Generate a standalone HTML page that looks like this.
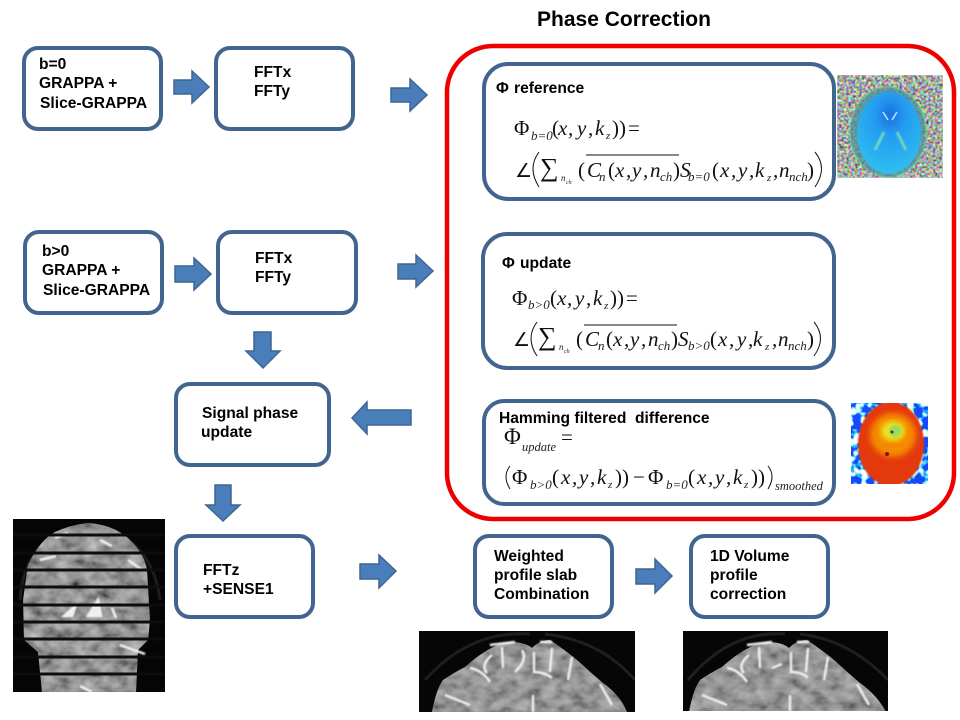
<!DOCTYPE html>
<html><head><meta charset="utf-8"><title>Phase Correction</title>
<style>
html,body{margin:0;padding:0;background:#fff;width:960px;height:720px;overflow:hidden}
svg{display:block}
.t{font:bold 15.6px "Liberation Sans",sans-serif;fill:#000}
.m{font:italic 21px "Liberation Serif",serif;fill:#111}
.r{font:21px "Liberation Serif",serif;fill:#111}
.s{font:italic 13px "Liberation Serif",serif;fill:#222}
.x{font:italic 9px "Liberation Serif",serif;fill:#222}
.b{fill:#fff;stroke:#41658f;stroke-width:4}
.a{fill:#4a7ebb;stroke:#3d6692;stroke-width:1.5}
.p{fill:none;stroke:#111;stroke-width:1}
</style></head><body>
<svg width="960" height="720" viewBox="0 0 960 720" xmlns="http://www.w3.org/2000/svg">
<defs>
<filter id="noise" x="0" y="0" width="100%" height="100%"><feTurbulence type="fractalNoise" baseFrequency="0.45" numOctaves="2" seed="4"/><feColorMatrix type="matrix" values="4.2 0 0 0 -1.75  0 4.2 0 0 -1.7  0 0 4.2 0 -1.75  0 0 0 0 1"/><feGaussianBlur stdDeviation="0.5"/></filter>
<filter id="noise2" x="0" y="0" width="100%" height="100%"><feTurbulence type="fractalNoise" baseFrequency="0.13" numOctaves="2" seed="9"/><feColorMatrix type="matrix" values="6 0 0 0 -3  6 0 0 0 -2.6  0 3 0 0 -0.5  0 0 0 0 1"/></filter>
<filter id="tex" x="0" y="0" width="100%" height="100%"><feTurbulence type="fractalNoise" baseFrequency="0.07 0.1" numOctaves="3" seed="7"/><feColorMatrix type="matrix" values="1 0 0 0 -0.1  1 0 0 0 -0.1  1 0 0 0 -0.1  0 0 0 0 1"/><feGaussianBlur stdDeviation="0.6"/><feComposite in2="SourceAlpha" operator="in"/></filter>
<filter id="bl1"><feGaussianBlur stdDeviation="0.8"/></filter>
<filter id="bl3"><feGaussianBlur stdDeviation="3"/></filter>
<radialGradient id="blue" cx="0.52" cy="0.28" r="0.7"><stop offset="0" stop-color="#1c6fe0"/><stop offset="0.35" stop-color="#229cf0"/><stop offset="1" stop-color="#30bdf0"/></radialGradient>
<clipPath id="cp1"><rect x="13" y="519" width="152" height="173"/></clipPath>
<clipPath id="cp2"><rect x="419" y="631" width="216" height="81"/></clipPath>
<clipPath id="cp3"><rect x="683" y="631" width="205" height="80"/></clipPath>
<clipPath id="cp4"><rect x="851" y="403" width="77" height="81"/></clipPath>
</defs>
<rect width="960" height="720" fill="#fff"/>

<text x="624" y="26" text-anchor="middle" style="font:bold 21px 'Liberation Sans',sans-serif">Phase Correction</text>

<!-- red container -->
<rect x="447" y="46" width="507" height="473" rx="46" fill="#fff" stroke="#ee0000" stroke-width="4.5"/>

<!-- boxes -->
<rect class="b" x="24" y="48" width="137" height="81" rx="14"/>
<rect class="b" x="216" y="48" width="137" height="81" rx="14"/>
<rect class="b" x="25" y="232" width="137" height="81" rx="14"/>
<rect class="b" x="218" y="232" width="138" height="81" rx="14"/>
<rect class="b" x="176" y="384" width="153" height="81" rx="14"/>
<rect class="b" x="176" y="536" width="137" height="81" rx="14"/>
<rect class="b" x="475" y="536" width="137" height="81" rx="14"/>
<rect class="b" x="691" y="536" width="137" height="81" rx="14"/>
<rect class="b" x="484" y="64" width="350" height="135" rx="24"/>
<rect class="b" x="483" y="234" width="351" height="134" rx="24"/>
<rect class="b" x="484" y="401" width="350" height="103" rx="20"/>

<!-- block arrows -->
<polygon class="a" points="174,80 192,80 192,71 209,87 192,103 192,94 174,94"/>
<polygon class="a" points="391,88 410,88 410,79 427,95 410,111 410,102 391,102"/>
<polygon class="a" points="175,266 194,266 194,258 211,274 194,290 194,282 175,282"/>
<polygon class="a" points="398,264 416,264 416,255 433,271 416,287 416,279 398,279"/>
<polygon class="a" points="254,332 271,332 271,351 280,351 263,368 246,351 254,351"/>
<polygon class="a" points="411,410 367,410 367,402 352,418 367,434 367,425 411,425"/>
<polygon class="a" points="215,485 231,485 231,505 240,505 223,521 206,505 215,505"/>
<polygon class="a" points="360,564 379,564 379,555 396,571 379,588 379,579 360,579"/>
<polygon class="a" points="636,569 655,569 655,559 672,576 655,593 655,584 636,584"/>

<!-- box labels -->
<text class="t"><tspan x="39" y="69">b=0</tspan><tspan x="39" y="88">GRAPPA +</tspan><tspan x="40" y="108">Slice-GRAPPA</tspan></text>
<text class="t"><tspan x="254" y="77">FFTx</tspan><tspan x="254" y="96">FFTy</tspan></text>
<text class="t"><tspan x="42" y="256">b&gt;0</tspan><tspan x="42" y="275">GRAPPA +</tspan><tspan x="43" y="295">Slice-GRAPPA</tspan></text>
<text class="t"><tspan x="255" y="263">FFTx</tspan><tspan x="255" y="282">FFTy</tspan></text>
<text class="t"><tspan x="202" y="418">Signal phase</tspan><tspan x="201" y="437">update</tspan></text>
<text class="t"><tspan x="203" y="575">FFTz</tspan><tspan x="203" y="594">+SENSE1</tspan></text>
<text class="t"><tspan x="494" y="561">Weighted</tspan><tspan x="494" y="580">profile slab</tspan><tspan x="494" y="599">Combination</tspan></text>
<text class="t"><tspan x="710" y="561">1D Volume</tspan><tspan x="710" y="580">profile</tspan><tspan x="710" y="599">correction</tspan></text>

<text class="t" y="93"><tspan x="496">Φ</tspan><tspan x="514">reference</tspan></text>
<text class="t" y="268"><tspan x="502">Φ</tspan><tspan x="520">update</tspan></text>
<text class="t" x="499" y="423">Hamming filtered&#160;&#160;difference</text>

<!-- equation: reference -->
<text class="r" x="514" y="135">Φ</text>
<text class="s" x="531" y="140">b=0</text>
<text class="m" y="135"><tspan x="552" style="font-style:normal">(</tspan><tspan x="558">x</tspan><tspan x="568">,</tspan><tspan x="577">y</tspan><tspan x="588">,</tspan><tspan x="595">k</tspan></text>
<text class="s" x="606" y="139" style="font-size:11px">z</text>
<text class="r" x="612" y="135">))</text><text class="r" x="628" y="135">=</text>
<text class="r" x="515" y="177" style="font-size:19px">∠</text>
<path class="p" d="M539 152 Q527 168 539 187"/>
<text class="r" x="540" y="176" style="font-size:26px">∑</text>
<text class="x" x="561" y="181">n</text><text class="x" x="566" y="184" style="font-size:6px">ch</text>
<line x1="586" y1="155" x2="679" y2="155" stroke="#111"/>
<text class="m" y="177"><tspan x="578" style="font-style:normal">(</tspan><tspan x="587">C</tspan></text>
<text class="s" x="599" y="181">n</text>
<text class="m" y="177"><tspan x="608" style="font-style:normal">(</tspan><tspan x="615">x</tspan><tspan x="626">,</tspan><tspan x="632">y</tspan><tspan x="643">,</tspan><tspan x="650">n</tspan></text>
<text class="s" x="660" y="181">ch</text>
<text class="r" x="673" y="177">)</text>
<text class="m" x="680" y="177">S</text>
<text class="s" x="688" y="181">b=0</text>
<text class="m" y="177"><tspan x="712" style="font-style:normal">(</tspan><tspan x="720">x</tspan><tspan x="731">,</tspan><tspan x="738">y</tspan><tspan x="749">,</tspan><tspan x="755">k</tspan></text>
<text class="s" x="767" y="181" style="font-size:11px">z</text>
<text class="m" y="177"><tspan x="773">,</tspan><tspan x="779">n</tspan></text>
<text class="s" x="789" y="181">nch</text>
<text class="r" x="807" y="177">)</text>
<path class="p" d="M815 152 Q828 168 815 187"/>

<!-- equation: update -->
<text class="r" x="512" y="305">Φ</text>
<text class="s" x="528" y="309">b&gt;0</text>
<text class="m" y="305"><tspan x="550" style="font-style:normal">(</tspan><tspan x="557">x</tspan><tspan x="567">,</tspan><tspan x="575">y</tspan><tspan x="586">,</tspan><tspan x="593">k</tspan></text>
<text class="s" x="604" y="309" style="font-size:11px">z</text>
<text class="r" x="610" y="305">))</text><text class="r" x="626" y="305">=</text>
<text class="r" x="513" y="346" style="font-size:19px">∠</text>
<path class="p" d="M537 322 Q525 338 537 356"/>
<text class="r" x="538" y="345" style="font-size:26px">∑</text>
<text class="x" x="559" y="350">n</text><text class="x" x="564" y="353" style="font-size:6px">ch</text>
<line x1="584" y1="325" x2="677" y2="325" stroke="#111"/>
<text class="m" y="346"><tspan x="576" style="font-style:normal">(</tspan><tspan x="585">C</tspan></text>
<text class="s" x="598" y="350">n</text>
<text class="m" y="346"><tspan x="606" style="font-style:normal">(</tspan><tspan x="613">x</tspan><tspan x="624">,</tspan><tspan x="630">y</tspan><tspan x="641">,</tspan><tspan x="648">n</tspan></text>
<text class="s" x="658" y="350">ch</text>
<text class="r" x="671" y="346">)</text>
<text class="m" x="678" y="346">S</text>
<text class="s" x="688" y="350">b&gt;0</text>
<text class="m" y="346"><tspan x="710" style="font-style:normal">(</tspan><tspan x="718">x</tspan><tspan x="729">,</tspan><tspan x="737">y</tspan><tspan x="748">,</tspan><tspan x="753">k</tspan></text>
<text class="s" x="765" y="350" style="font-size:11px">z</text>
<text class="m" y="346"><tspan x="772">,</tspan><tspan x="778">n</tspan></text>
<text class="s" x="788" y="350">nch</text>
<text class="r" x="807" y="346">)</text>
<path class="p" d="M814 322 Q827 338 814 356"/>

<!-- equation: hamming -->
<text class="r" x="504" y="444" style="font-size:23px">Φ</text>
<text class="s" x="522" y="451" style="font-size:12.5px">update</text>
<text class="r" x="561" y="444">=</text>
<path class="p" d="M510 466 Q502 476 510 489"/>
<text class="r" x="512" y="484">Φ</text>
<text class="s" x="530" y="489">b&gt;0</text>
<text class="m" y="484"><tspan x="552" style="font-style:normal">(</tspan><tspan x="561">x</tspan><tspan x="572">,</tspan><tspan x="579">y</tspan><tspan x="590">,</tspan><tspan x="597">k</tspan></text>
<text class="s" x="608" y="488" style="font-size:11px">z</text>
<text class="r" x="615" y="484">))</text><text class="r" x="633" y="484">−</text><text class="r" x="648" y="484">Φ</text>
<text class="s" x="666" y="489">b=0</text>
<text class="m" y="484"><tspan x="688" style="font-style:normal">(</tspan><tspan x="697">x</tspan><tspan x="708">,</tspan><tspan x="715">y</tspan><tspan x="726">,</tspan><tspan x="733">k</tspan></text>
<text class="s" x="744" y="488" style="font-size:11px">z</text>
<text class="r" x="751" y="484">))</text>
<path class="p" d="M768 466 Q776 476 768 489"/>
<text class="s" x="775" y="490" style="font-size:12.5px">smoothed</text>

<!-- blue phase map -->
<rect x="837" y="75" width="106" height="103" filter="url(#noise)"/>
<ellipse cx="888" cy="132" rx="38" ry="45" fill="#4d8f9a" stroke="#5fc88a" stroke-width="1.5" opacity=".75"/>
<ellipse cx="889" cy="133" rx="32" ry="41" fill="url(#blue)" filter="url(#bl1)"/>
<path d="M884 132 L875 150 M897 132 L906 150" stroke="#6fd6c0" stroke-width="3" filter="url(#bl1)"/>
<path d="M883 112 L888 120 M897 112 L892 120" stroke="#bfe7ff" stroke-width="1.5"/>

<!-- orange phase map -->
<g clip-path="url(#cp4)">
<rect x="851" y="403" width="77" height="81" fill="#1c46c8"/>
<rect x="851" y="403" width="77" height="81" filter="url(#noise2)" style="mix-blend-mode:screen"/>
<ellipse cx="891" cy="444" rx="33" ry="42" fill="#e4380a" filter="url(#bl1)"/>
<ellipse cx="893" cy="435" rx="23" ry="22" fill="#f58a00" filter="url(#bl3)"/>
<ellipse cx="893" cy="431" rx="12" ry="10" fill="#e8e820" filter="url(#bl3)"/>
<ellipse cx="895" cy="431" rx="6" ry="6" fill="#90e060" filter="url(#bl1)"/>
<circle cx="892" cy="432" r="1.5" fill="#a01010"/>
<circle cx="887" cy="454" r="2" fill="#801010"/>
</g>

<!-- coronal slab image -->
<g clip-path="url(#cp1)">
<rect x="13" y="519" width="152" height="173" fill="#050505"/>
<path d="M20 600 Q24 535 88 524 Q152 535 160 600" fill="none" stroke="#1d1d1d" stroke-width="3"/>
<path d="M88 523 Q115 525 130 540 Q145 555 147 570 L150 620 L148 640 L138 650 L136 692 L42 692 L38 652 L24 640 L23 600 L28 565 Q40 540 55 532 Q70 525 88 523Z" fill="#666"/>
<path d="M88 523 Q115 525 130 540 Q145 555 147 570 L150 620 L148 640 L138 650 L136 692 L42 692 L38 652 L24 640 L23 600 L28 565 Q40 540 55 532 Q70 525 88 523Z" filter="url(#tex)" opacity=".7"/>
<path d="M72 616 L76 605 L64 616Z M98 600 L88 616 L101 616Z M112 608 L116 618 M55 538 L68 533 M100 540 L112 546 M40 560 L56 556 M128 560 L142 570 M80 686 L92 692 M120 645 L145 654" stroke="#f2f2f2" stroke-width="2.5" fill="#eee" filter="url(#bl1)"/>
<g stroke="#0d0d0d" stroke-width="3">
<line x1="13" y1="535" x2="165" y2="535"/><line x1="13" y1="553" x2="165" y2="553"/><line x1="13" y1="570" x2="165" y2="570"/><line x1="13" y1="587" x2="165" y2="587"/><line x1="13" y1="605" x2="165" y2="605"/><line x1="13" y1="622" x2="165" y2="622"/><line x1="13" y1="639" x2="165" y2="639"/><line x1="13" y1="657" x2="165" y2="657"/><line x1="13" y1="674" x2="165" y2="674"/>
</g>
</g>

<!-- brain crop 1 -->
<g clip-path="url(#cp2)">
<rect x="419" y="631" width="216" height="81" fill="#060606"/>
<path d="M425 680 Q470 630 530 634 M545 634 Q600 640 635 680" fill="none" stroke="#1f1f1f" stroke-width="3"/>
<path d="M432 712 Q436 690 443 680 Q455 672 465 667 Q475 658 483 653 Q498 643 510 642 Q525 642 532 648 Q540 640 550 640 Q565 650 577 660 Q590 672 603 683 Q620 695 627 712Z" fill="#777"/>
<path d="M432 712 Q436 690 443 680 Q455 672 465 667 Q475 658 483 653 Q498 643 510 642 Q525 642 532 648 Q540 640 550 640 Q565 650 577 660 Q590 672 603 683 Q620 695 627 712Z" filter="url(#tex)" opacity=".6"/>
<path d="M470 668 Q482 670 490 682 M492 655 Q480 665 487 673 M502 647 L503 668 M522 650 Q528 660 515 672 M534 652 L534 672 Q545 672 552 678 M552 648 L550 672 M572 657 L568 680 M600 684 L612 705 M445 695 L470 705 M533 695 L533 712 M490 645 L515 642 M540 642 L552 642" fill="none" stroke="#efefef" stroke-width="2.5" filter="url(#bl1)"/>
</g>

<!-- brain crop 2 -->
<g clip-path="url(#cp3)">
<rect x="683" y="631" width="205" height="80" fill="#060606"/>
<path d="M688 680 Q730 630 785 634 M800 634 Q850 640 888 680" fill="none" stroke="#1f1f1f" stroke-width="3"/>
<path d="M689 712 Q693 690 700 680 Q712 672 722 667 Q732 658 740 653 Q755 643 767 642 Q782 642 789 648 Q797 640 807 640 Q822 650 834 660 Q847 672 860 683 Q877 695 886 712Z" fill="#777"/>
<path d="M689 712 Q693 690 700 680 Q712 672 722 667 Q732 658 740 653 Q755 643 767 642 Q782 642 789 648 Q797 640 807 640 Q822 650 834 660 Q847 672 860 683 Q877 695 886 712Z" filter="url(#tex)" opacity=".6"/>
<path d="M727 668 Q739 670 747 682 M749 655 Q737 665 744 673 M759 647 L760 668 M772 668 L782 664 M791 652 L791 672 Q802 672 808 678 M808 648 L806 672 M828 657 L824 680 M857 684 L869 705 M702 695 L727 705 M790 695 L790 711 M747 645 L772 642 M797 642 L809 642" fill="none" stroke="#efefef" stroke-width="2.5" filter="url(#bl1)"/>
</g>
</svg>
</body></html>
